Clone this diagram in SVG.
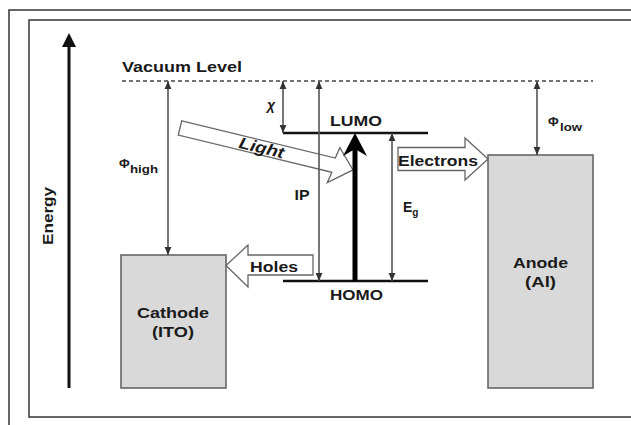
<svg xmlns="http://www.w3.org/2000/svg" width="631" height="425" viewBox="0 0 631 425">
<style>
text{font-family:"Liberation Sans",Arial,sans-serif;font-weight:bold;fill:#1a1a1a}
.frame{fill:none;stroke:#333;stroke-width:1.5}
.dim{stroke:#555;stroke-width:1.6;fill:none;marker-start:url(#ah);marker-end:url(#ah)}
.level{stroke:#111;stroke-width:2.6}
.electrode{fill:#d9d9d9;stroke:#666;stroke-width:1.6}
.block{fill:#fff;stroke:#666;stroke-width:1.3;stroke-linejoin:miter}
</style>
<defs>
<marker id="ah" markerUnits="userSpaceOnUse" markerWidth="8" markerHeight="8" viewBox="0 0 8 8" refX="8" refY="4" orient="auto-start-reverse">
<path d="M0,0.6 L8,4 L0,7.4 Z" fill="#333"/>
</marker>
</defs>
<rect width="631" height="425" fill="#fff"/>
<rect class="frame" x="9" y="10" width="640" height="430"/>
<rect class="frame" x="29" y="20" width="620" height="397"/>

<g id="energy-axis">
<line x1="69" y1="44" x2="69" y2="388" stroke="#111" stroke-width="3"/>
<path d="M69,33 L76,47 L62,47 Z" fill="#111"/>
<text transform="translate(53,216) rotate(-90)" text-anchor="middle" font-size="15" textLength="58" lengthAdjust="spacingAndGlyphs">Energy</text>
</g>

<g id="vacuum-level">
<line x1="122" y1="81" x2="593" y2="81" stroke="#444" stroke-width="1.3" stroke-dasharray="4 3"/>
<text x="122" y="72" font-size="15" textLength="120" lengthAdjust="spacingAndGlyphs">Vacuum Level</text>
</g>

<g id="lumo">
<line class="level" x1="283" y1="133" x2="428" y2="133"/>
<text x="330" y="126" font-size="14" textLength="52" lengthAdjust="spacingAndGlyphs">LUMO</text>
</g>

<g id="homo">
<line class="level" x1="283" y1="281" x2="428" y2="281"/>
<text x="330" y="300" font-size="14" textLength="53" lengthAdjust="spacingAndGlyphs">HOMO</text>
</g>

<g id="cathode">
<rect class="electrode" x="121" y="255" width="105" height="133"/>
<text x="173" y="318" font-size="15" text-anchor="middle" textLength="72" lengthAdjust="spacingAndGlyphs">Cathode</text>
<text x="173" y="337" font-size="15" text-anchor="middle" textLength="42" lengthAdjust="spacingAndGlyphs">(ITO)</text>
</g>

<g id="anode">
<rect class="electrode" x="488" y="155" width="105" height="233"/>
<text x="540.5" y="268" font-size="15" text-anchor="middle" textLength="55" lengthAdjust="spacingAndGlyphs">Anode</text>
<text x="540.5" y="287" font-size="15" text-anchor="middle" textLength="31" lengthAdjust="spacingAndGlyphs">(Al)</text>
</g>

<g id="light">
<g transform="translate(180,128) rotate(13.6)">
<polygon class="block" points="0,-7.3 158,-7.3 160,-18.5 178,0 156,18.5 158,7.3 0,7.3"/>
<text x="84" y="5.5" font-size="16" font-style="italic" text-anchor="middle" textLength="46" lengthAdjust="spacingAndGlyphs">Light</text>
</g>
</g>

<g id="electrons">
<polygon class="block" points="398,147.5 465,147.5 465,138 488,159 465,180 465,170.5 398,170.5"/>
<text x="398" y="166" font-size="15" textLength="80" lengthAdjust="spacingAndGlyphs">Electrons</text>
</g>

<g id="holes">
<polygon class="block" points="313,255 248,255 248,245 226,265.5 248,287 248,275 313,275"/>
<text x="250" y="272" font-size="15" textLength="48" lengthAdjust="spacingAndGlyphs">Holes</text>
</g>

<g id="connectors">
<line class="dim" x1="168" y1="81" x2="168" y2="255"/>
<line class="dim" x1="283" y1="81" x2="283" y2="133"/>
<line class="dim" x1="319" y1="81" x2="319" y2="281"/>
<line class="dim" x1="392" y1="133" x2="392" y2="281"/>
<line class="dim" x1="537" y1="81" x2="537" y2="155"/>
<line x1="355" y1="148" x2="355" y2="281" stroke="#000" stroke-width="5"/>
<path d="M355,133 L367,156 L355,149 L343,156 Z" fill="#000"/>
</g>

<g id="labels">
<text x="267" y="110" font-size="14" font-style="italic">χ</text>
<text x="302" y="200" font-size="15" text-anchor="middle" textLength="15" lengthAdjust="spacingAndGlyphs">IP</text>
<text x="403" y="212" font-size="14">E<tspan font-size="10" dy="4">g</tspan></text>
<text x="119" y="168" font-size="13">Φ</text>
<text x="130" y="173" font-size="11" textLength="28" lengthAdjust="spacingAndGlyphs">high</text>
<text x="548" y="126" font-size="13">Φ</text>
<text x="560" y="131" font-size="11" textLength="22" lengthAdjust="spacingAndGlyphs">low</text>
</g>
</svg>
